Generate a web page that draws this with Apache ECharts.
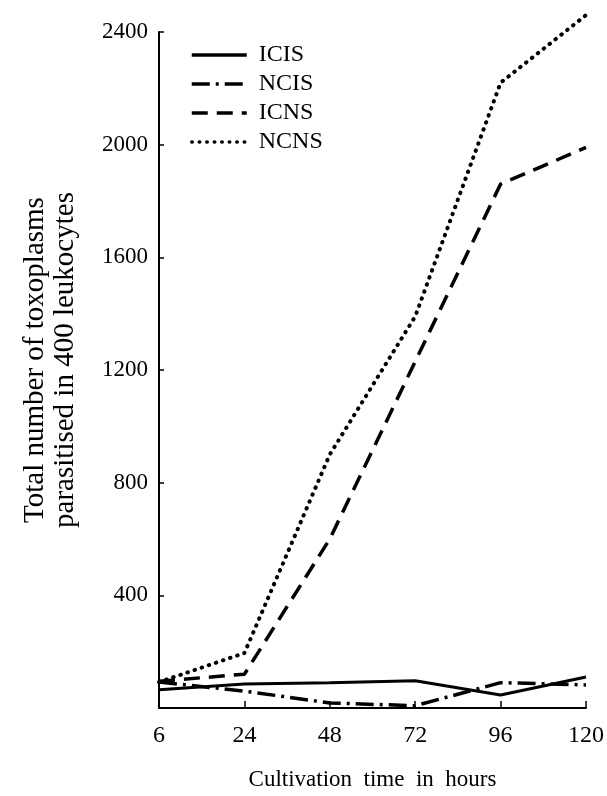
<!DOCTYPE html>
<html>
<head>
<meta charset="utf-8">
<script src="https://cdn.jsdelivr.net/npm/echarts@6/dist/echarts.min.js"></script>
<style>
html,body{margin:0;padding:0;background:#fff;}
#c{width:607px;height:796px;}
</style>
</head>
<body>
<div id="c"></div>
<script>
const hours = ['6', '24', '48', '72', '96', '120'];
const ICIS = [65, 85, 90, 97, 46, 110];
const NCIS = [92, 60, 18, 8, 90, 82];
const ICNS = [95, 120, 600, 1230, 1860, 1990];
const NCNS = [92, 195, 900, 1390, 2220, 2460];
const yTicks = { min: 0, max: 2400, interval: 400 };

const FONT = '"Liberation Serif", "DejaVu Serif", serif';
const chart = echarts.init(document.getElementById('c'), null, { renderer: 'canvas' });

function mk(name, data, type, width, cap) {
  return {
    name: name, type: 'line', data: data, symbol: 'none', showSymbol: false,
    clip: false,
    lineStyle: { color: '#000', width: width, type: type, cap: cap || 'butt' },
    itemStyle: { color: '#000' },
    animation: false
  };
}

chart.setOption({
  animation: false,
  backgroundColor: '#fff',
  grid: { left: 159, right: 19, top: 32, bottom: 86 },
  legend: {
    orient: 'vertical', left: 185, top: 38,
    itemWidth: 55, itemHeight: 14, itemGap: 5,
    lineStyle: { width: 3.5 },
    itemStyle: { color: 'transparent', borderColor: 'transparent', borderWidth: 0, opacity: 0 },
    textStyle: { fontFamily: FONT, fontSize: 24, color: '#000', lineHeight: 22, padding: [0, 0, 0, 7] },
    data: ['ICIS', 'NCIS', 'ICNS', 'NCNS']
  },
  xAxis: {
    type: 'category', data: hours, boundaryGap: false,
    name: 'Cultivation  time  in  hours', nameLocation: 'middle', nameGap: 60,
    nameTextStyle: { fontFamily: FONT, fontSize: 23, color: '#000' },
    axisLine: { lineStyle: { color: '#000', width: 2 } },
    axisTick: { inside: true, length: 7, lineStyle: { color: '#000', width: 1.5 } },
    axisLabel: { fontFamily: FONT, fontSize: 24, color: '#000', margin: 16 },
    splitLine: { show: false }
  },
  yAxis: {
    type: 'value', min: yTicks.min, max: yTicks.max, interval: yTicks.interval,
    name: 'Total number of toxoplasms\nparasitised in 400 leukocytes',
    nameLocation: 'middle', nameGap: 79, nameRotate: 90,
    nameTextStyle: { fontFamily: FONT, fontSize: 29, color: '#000', lineHeight: 30, padding: [0, 0, 0, 20] },
    axisLine: { show: true, lineStyle: { color: '#000', width: 2 } },
    axisTick: { show: true, inside: true, length: 5, lineStyle: { color: '#000', width: 1.5 } },
    axisLabel: {
      fontFamily: FONT, fontSize: 23, color: '#000', margin: 11,
      formatter: function (v) { return v === 0 ? '' : String(v); }
    },
    splitLine: { show: false }
  },
  series: [
    mk('ICIS', ICIS, 'solid', 3),
    mk('NCIS', NCIS, [18, 6, 3, 6], 3.5),
    mk('ICNS', ICNS, [16, 9], 3.5),
    mk('NCNS', NCNS, [0.5, 7], 4, 'round')
  ]
});
</script>
</body>
</html>
